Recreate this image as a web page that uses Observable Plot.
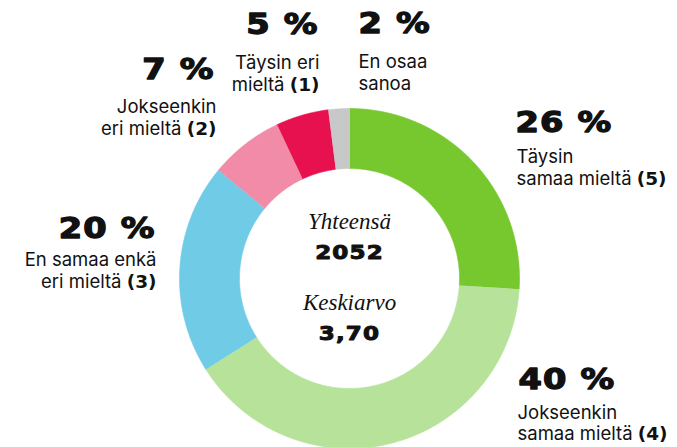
<!DOCTYPE html>
<html>
<head>
<meta charset="utf-8">
<script src="https://cdn.jsdelivr.net/npm/d3@7"></script>
<script src="https://cdn.jsdelivr.net/npm/@observablehq/plot@0.6"></script>
<style>
  html, body { margin: 0; padding: 0; background: #fff; }
  #chart svg { display: block; }
</style>
</head>
<body>
<div id="chart"></div>
<script>
// ---- data ----
const categories = ["5", "4", "3", "2", "1", "EOS"];
const values = [26, 40, 20, 7, 5, 2];
const labels = [
  "Täysin\nsamaa mieltä (5)",
  "Jokseenkin\nsamaa mieltä (4)",
  "En samaa enkä\neri mieltä (3)",
  "Jokseenkin\neri mieltä (2)",
  "Täysin eri\nmieltä (1)",
  "En osaa\nsanoa"
];
const colors = ["#77c72f", "#b7e29a", "#70cbe7", "#f18ba7", "#e8114f", "#c8c8c8"];
const centerTitles = ["Yhteensä", "Keskiarvo"];
const centerValues = ["2052", "3,70"];

// ---- layout (pixels) ----
const W = 677, H = 447;
const cx = 349, cy = 278, rOuter = 170, rInner = 110;
const pctPos = [[515, 123, "start"], [518, 380, "start"], [155, 229, "end"], [214, 70, "end"], [318, 25, "end"], [358, 24, "start"]];
const descPos = [[516, 147, "start"], [517, 404, "start"], [156, 250, "end"], [216, 97, "end"], [319, 53, "end"], [358, 52, "start"]];
const descLH = [1.18, 1.13, 1.18, 1.18, 1.18, 1.18];
const centerTitleY = [221, 302];
const centerValueY = [252, 333];

// ---- slice polygons from d3.pie ----
const pie = d3.pie().sort(null).value(d => d)(values);
const slicePts = [];
pie.forEach((p, i) => {
  const n = Math.max(4, Math.ceil((p.endAngle - p.startAngle) / 0.01));
  const outer = d3.range(n + 1).map(k => p.startAngle + (p.endAngle - p.startAngle) * k / n);
  outer.forEach(a => slicePts.push({key: categories[i], x: cx + rOuter * Math.sin(a), y: cy - rOuter * Math.cos(a)}));
  outer.slice().reverse().forEach(a => slicePts.push({key: categories[i], x: cx + rInner * Math.sin(a), y: cy - rInner * Math.cos(a)}));
});

const pctData = values.map((v, i) => ({text: `${v} %`, x: pctPos[i][0], y: pctPos[i][1], anchor: pctPos[i][2]}));
const descData = labels.map((t, i) => ({text: t, x: descPos[i][0], y: descPos[i][1], anchor: descPos[i][2], lh: descLH[i]}));

const boldFont = "DejaVu Sans, sans-serif";
const textMarks = [];
for (const anchor of ["start", "end"]) {
  textMarks.push(Plot.text(pctData.filter(d => d.anchor === anchor), {
    x: "x", y: "y", text: "text", textAnchor: anchor,
    fontFamily: boldFont, fontWeight: 900, fontSize: 28, fill: "#111",
    stroke: "#111", strokeWidth: 1.3, strokeLinejoin: "round",
    className: "pct-" + anchor
  }));
  for (const lh of [...new Set(descLH)]) {
    const sub = descData.filter(d => d.anchor === anchor && d.lh === lh);
    if (!sub.length) continue;
    textMarks.push(Plot.text(sub, {
      x: "x", y: "y", text: "text", textAnchor: anchor, lineAnchor: "top",
      fontFamily: "Inter, sans-serif", fontSize: 18.5, lineHeight: lh, fill: "#111",
      className: "desc"
    }));
  }
}

const chart = Plot.plot({
  width: W, height: H,
  margin: 0,
  x: {domain: [0, W], range: [0, W], axis: null},
  y: {domain: [0, H], range: [0, H], axis: null},
  color: {type: "ordinal", domain: categories, range: colors},
  marks: [
    Plot.line(slicePts, {x: "x", y: "y", z: "key", fill: "key", stroke: "key", strokeWidth: 0.6}),
    ...textMarks,
    Plot.text(centerTitles, {x: () => cx, y: (d, i) => centerTitleY[i], text: d => d,
      fontFamily: "Liberation Serif, serif", fontStyle: "italic", fontSize: 23, fill: "#111"}),
    Plot.text(centerValues, {x: () => cx, y: (d, i) => centerValueY[i], text: d => d,
      fontFamily: boldFont, fontWeight: 900, fontSize: 20, fill: "#111",
      stroke: "#111", strokeWidth: 1, strokeLinejoin: "round", className: "cval"})
  ]
});

// bold scale numbers "(n)"
chart.querySelectorAll("text, tspan").forEach(el => {
  if (el.children.length) return;
  const m = el.textContent.match(/^(.*?)(\(\d\))$/);
  if (!m) return;
  el.textContent = m[1];
  const t = document.createElementNS("http://www.w3.org/2000/svg", "tspan");
  t.setAttribute("font-family", boldFont);
  t.setAttribute("font-weight", "900");
  t.textContent = m[2];
  el.appendChild(t);
});

document.getElementById("chart").appendChild(chart);

// widen the heavy numerals horizontally around their anchor
function widen(selector, s, side) {
  chart.querySelectorAll(selector).forEach(el => {
    el.setAttribute("letter-spacing", "1");
    const b = el.getBBox();
    const ax = side === "end" ? b.x + b.width : side === "start" ? b.x : b.x + b.width / 2;
    const t0 = el.getAttribute("transform") || "";
    el.setAttribute("transform", `${t0} translate(${ax},0) scale(${s},1) translate(${-ax},0)`);
  });
}
widen(".pct-start text", 1.2, "start");
widen(".pct-end text", 1.2, "end");
widen(".cval text", 1.15, "middle");
</script>
</body>
</html>
